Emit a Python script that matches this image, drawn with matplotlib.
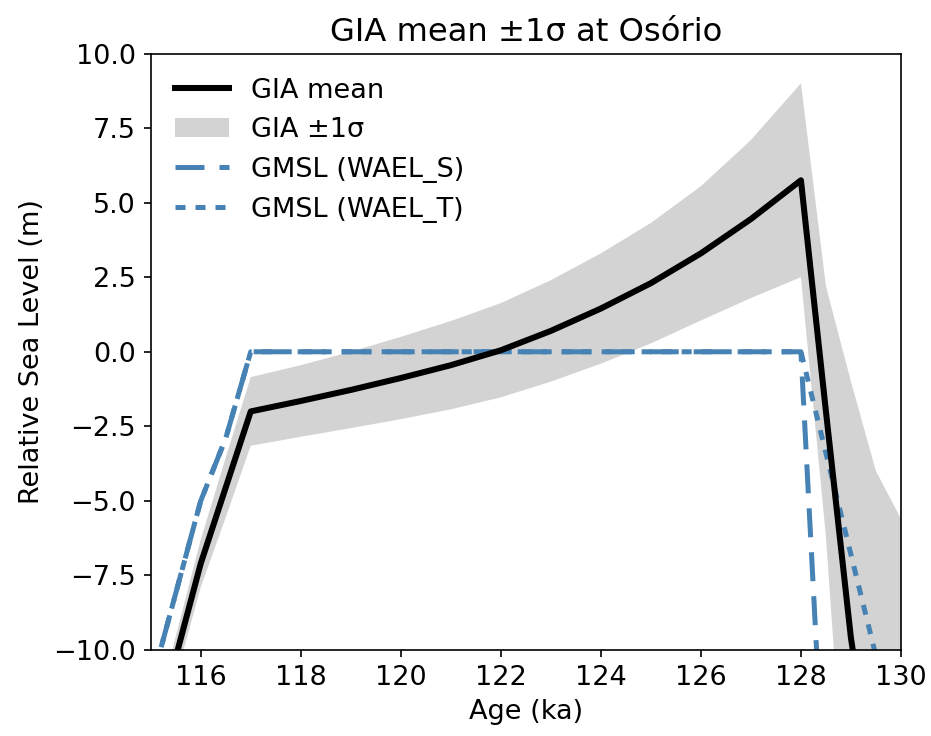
import matplotlib
matplotlib.use("Agg")
import matplotlib.pyplot as plt
import numpy as np

# GIA relative sea level at Osorio (mean and 1 sigma)
gia_age = [115, 115.5, 116, 116.5, 117, 118, 119, 120, 121, 122, 123, 124, 125,
           126, 127, 128, 128.5, 129, 129.5, 130]
gia_mean = [-13.5, -10.25, -7.1, -4.55, -2.0, -1.65, -1.28, -0.88, -0.45, 0.05,
            0.7, 1.45, 2.3, 3.3, 4.45, 5.75, -2.0, -9.6, -15.0, -17.0]
gia_sigma = [0.6, 0.7, 0.8, 1.0, 1.15, 1.2, 1.28, 1.38, 1.48, 1.58, 1.7, 1.85,
             2.02, 2.25, 2.65, 3.25, 4.2, 8.6, 11.0, 11.4]

# GMSL scenarios
gmsl_age = [115, 115.5, 116, 116.5, 117, 128, 128.5, 129, 129.5, 130]
wael_s = [-11.2, -8.1, -5.0, -2.9, 0.0, 0.0, -16.0, -20.0, -20.0, -20.0]
wael_t = [-11.2, -8.1, -5.0, -2.9, 0.0, 0.0, -3.4, -6.8, -10.2, -13.6]

plt.rcParams['font.size'] = 13

fig, ax = plt.subplots(figsize=(932 / 150, 736 / 150), dpi=150)

mean = np.array(gia_mean)
sig = np.array(gia_sigma)
ax.plot(gia_age, mean, color='black', lw=2.9, label='GIA mean', zorder=3)
ax.fill_between(gia_age, mean - sig, mean + sig, color='lightgray', lw=0,
                label='GIA ±1σ', zorder=1)
ax.plot(gmsl_age, wael_s, color='steelblue', lw=2.4, linestyle=(0, (5.8, 3.0)),
        label='GMSL (WAEL_S)', zorder=2)
ax.plot(gmsl_age, wael_t, color='steelblue', lw=2.4, linestyle=(0, (2.0, 2.0)),
        label='GMSL (WAEL_T)', zorder=2)

ax.set_xlim(115, 130)
ax.set_ylim(-10, 10)
ax.set_xticks(np.arange(116, 131, 2))
ax.set_yticks(np.arange(-10, 10.1, 2.5))
ax.set_xlabel('Age (ka)')
ax.set_ylabel('Relative Sea Level (m)')
ax.set_title('GIA mean ±1σ at Osório', fontsize=15.5)
ax.legend(loc='upper left', frameon=False)

fig.subplots_adjust(left=0.1617, right=0.9667, top=0.9273, bottom=0.1168)
fig.savefig('out.png', dpi=150)
